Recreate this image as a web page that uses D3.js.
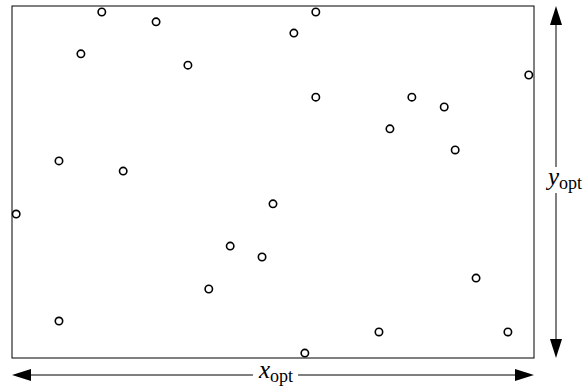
<!DOCTYPE html>
<html>
    <head>
        <style>
            html, body { margin: 0; padding: 0; background: #fff; }
        </style>
        <script src="https://d3js.org/d3.v7.min.js"></script>
        <script type="text/javascript">
            // point positions, as fractions of x_opt / y_opt
            var xs = [0.172, 0.276, 0.132, 0.337, 0.582, 0.540, 0.582, 0.990,
                      0.766, 0.828, 0.724, 0.090, 0.213, 0.008, 0.500, 0.418,
                      0.479, 0.849, 0.090, 0.377, 0.561, 0.703, 0.889, 0.950];
            var ys = [0.983, 0.955, 0.864, 0.832, 0.983, 0.923, 0.741, 0.804,
                      0.741, 0.713, 0.651, 0.560, 0.531, 0.409, 0.438, 0.318,
                      0.287, 0.591, 0.105, 0.196, 0.014, 0.074, 0.227, 0.074];
            var xLabel = "x", yLabel = "y", sub = "opt";
        </script>
    </head>
    <body>
        <div id="graph"></div>
        <script type="text/javascript">
            var w = 587, h = 387;
            var vis = d3.select("#graph").append("svg")
                .attr("width", w)
                .attr("height", h);

            var x = d3.scaleLinear().domain([0, 1]).range([12, 534]);
            var y = d3.scaleLinear().domain([0, 1]).range([358, 6]);

            vis.append("rect")
                .attr("x", x(0)).attr("y", y(1))
                .attr("width", x(1) - x(0)).attr("height", y(0) - y(1))
                .attr("fill", "none").attr("stroke", "black").attr("stroke-width", 1);

            vis.selectAll("circle.pt")
                .data(xs)
                .enter()
                .append("circle")
                .attr("class", "pt")
                .attr("cx", (d, i) => x(d))
                .attr("cy", (d, i) => y(ys[i]))
                .attr("r", 3.7)
                .attr("fill", "white")
                .attr("stroke", "black")
                .attr("stroke-width", 1.6);

            var headLen = 19, headW = 6;

            function label(g, cx, cy, main) {
                var t = g.append("text")
                    .attr("x", cx).attr("y", cy)
                    .attr("text-anchor", "middle")
                    .style("font-family", "'Liberation Serif', serif")
                    .style("font-size", "25px");
                t.append("tspan").style("font-style", "italic").text(main);
                t.append("tspan").attr("dy", 4).style("font-size", "18px").text(sub);
                return t.node().getBBox();
            }

            // horizontal arrow
            var ay = 375;
            var gx = vis.append("g");
            var bx = label(gx, (x(0) + x(1)) / 2 + 3, ay + 3, xLabel);
            gx.append("line")
                .attr("x1", x(0) + headLen - 1).attr("y1", ay)
                .attr("x2", bx.x - 5).attr("y2", ay)
                .attr("stroke", "black");
            gx.append("line")
                .attr("x1", bx.x + bx.width + 5).attr("y1", ay)
                .attr("x2", x(1) - headLen + 1).attr("y2", ay)
                .attr("stroke", "black");
            gx.append("path")
                .attr("d", "M" + x(0) + "," + ay + "L" + (x(0) + headLen) + "," + (ay - headW) + "L" + (x(0) + headLen) + "," + (ay + headW) + "Z")
                .attr("fill", "black");
            gx.append("path")
                .attr("d", "M" + x(1) + "," + ay + "L" + (x(1) - headLen) + "," + (ay - headW) + "L" + (x(1) - headLen) + "," + (ay + headW) + "Z")
                .attr("fill", "black");

            // vertical arrow
            var ax = 556;
            var gy = vis.append("g");
            var by = label(gy, ax + 9, (y(0) + y(1)) / 2 + 3, yLabel);
            gy.append("line")
                .attr("x1", ax).attr("y1", y(1) + headLen - 1)
                .attr("x2", ax).attr("y2", by.y + 4)
                .attr("stroke", "black");
            gy.append("line")
                .attr("x1", ax).attr("y1", by.y + by.height)
                .attr("x2", ax).attr("y2", y(0) - headLen + 1)
                .attr("stroke", "black");
            gy.append("path")
                .attr("d", "M" + ax + "," + y(1) + "L" + (ax - headW) + "," + (y(1) + headLen) + "L" + (ax + headW) + "," + (y(1) + headLen) + "Z")
                .attr("fill", "black");
            gy.append("path")
                .attr("d", "M" + ax + "," + y(0) + "L" + (ax - headW) + "," + (y(0) - headLen) + "L" + (ax + headW) + "," + (y(0) - headLen) + "Z")
                .attr("fill", "black");
        </script>
    </body>
</html>
